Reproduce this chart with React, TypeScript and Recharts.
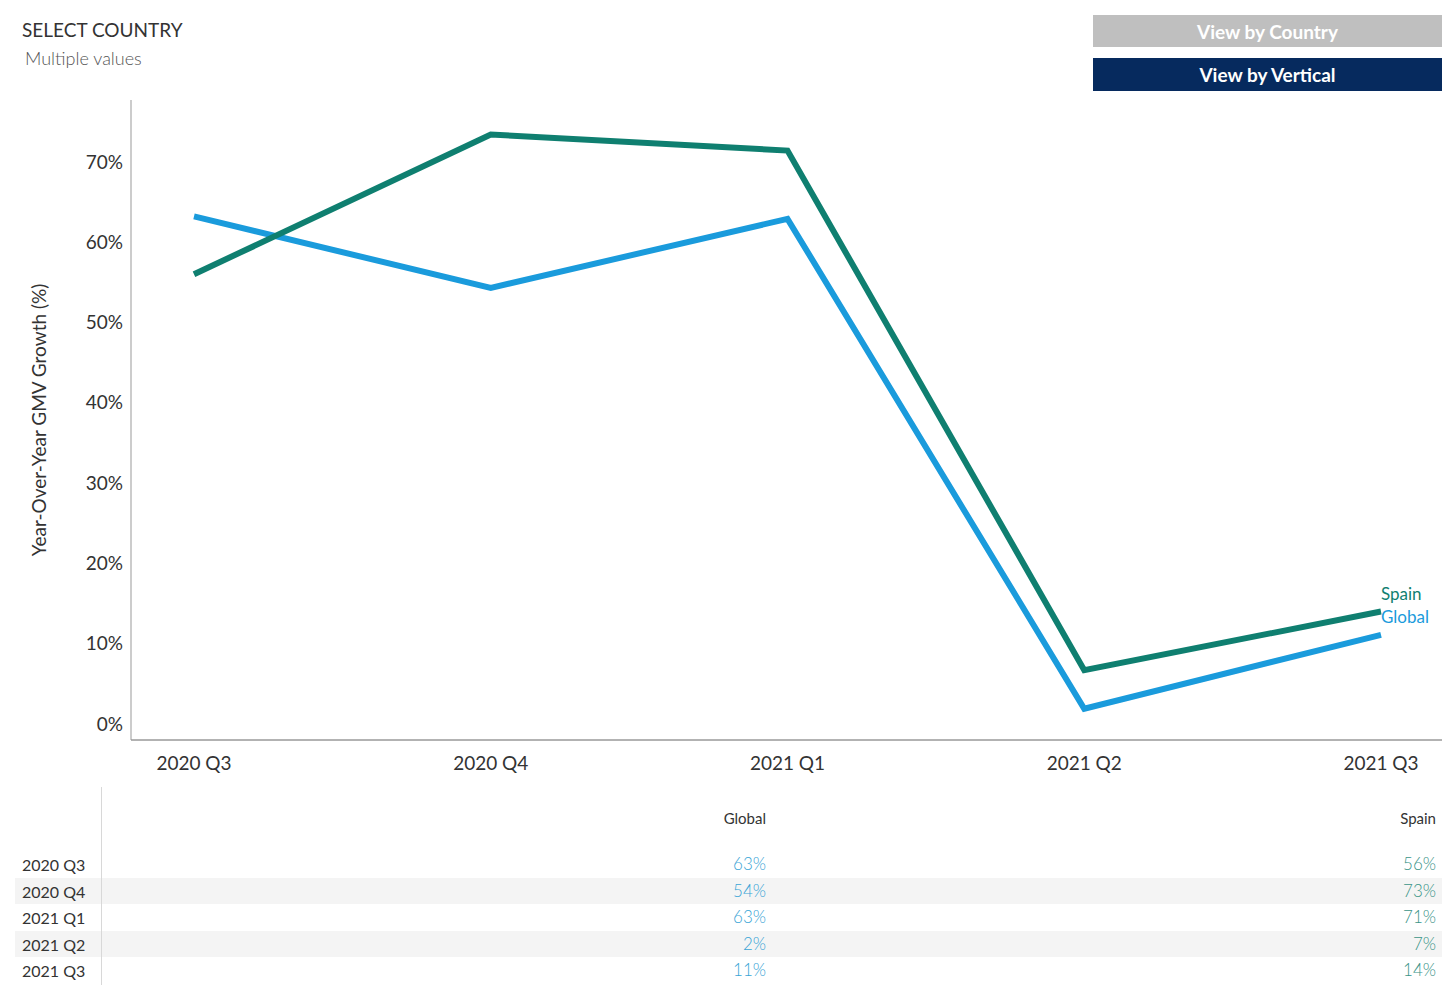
import { LineChart, Line, XAxis, YAxis } from 'recharts'

const quarters = ['2020 Q3', '2020 Q4', '2021 Q1', '2021 Q2', '2021 Q3']
const globalGrowth = [63.2, 54.3, 62.9, 1.9, 11.1]
const spainGrowth = [56.0, 73.4, 71.4, 6.7, 14.0]
const yTicks = [0, 10, 20, 30, 40, 50, 60, 70]

const COLORS = {
  spain: '#0f7f70',
  global: '#1a9bdc',
  globalText: '#3aa5d6',
  spainText: '#3a9488'
}

const FONT = 'Lato, "Open Sans", sans-serif'

const data = quarters.map((q, i) => ({ quarter: q, global: globalGrowth[i], spain: spainGrowth[i] }))

const endLabel = (name: string, color: string) => (props: any) => {
  const { x, y, index } = props
  if (index !== quarters.length - 1) return null
  return (
    <text x={x} y={y - 18} fill={color} fontSize={17} fontFamily={FONT} dominantBaseline="central">
      {name}
    </text>
  )
}

const pct = (v: number) => `${Math.round(v)}%`

export default function App() {
  return (
    <div style={{ position: 'absolute', left: 0, top: 0, width: 1456, height: 998, background: '#fff', fontFamily: FONT }}>
      <div style={{ position: 'absolute', left: 22, top: 18, fontSize: 19, color: '#333' }}>SELECT COUNTRY</div>
      <div style={{ position: 'absolute', left: 25, top: 47, fontSize: 18, color: '#555', fontWeight: 300 }}>Multiple values</div>

      <div style={{ position: 'absolute', left: 1093, top: 15, width: 349, height: 32, background: '#bfbfbf', color: '#fff', fontWeight: 700, fontSize: 19, display: 'flex', alignItems: 'center', justifyContent: 'center' }}>
        View by Country
      </div>
      <div style={{ position: 'absolute', left: 1093, top: 58, width: 349, height: 33, background: '#062a5e', color: '#fff', fontWeight: 700, fontSize: 19, display: 'flex', alignItems: 'center', justifyContent: 'center' }}>
        View by Vertical
      </div>

      <div style={{ position: 'absolute', left: 0, top: 0 }}>
        <LineChart width={1456} height={790} data={data} margin={{ top: 100, right: 14, bottom: 20, left: 0 }}>
          <XAxis
            dataKey="quarter"
            padding={{ left: 63, right: 61 }}
            tickLine={false}
            tickMargin={11}
            stroke="#666"
            tick={{ fill: '#333', fontSize: 19, fontFamily: FONT }}
          />
          <YAxis
            width={131}
            domain={[-2, 77.7]}
            ticks={yTicks}
            tickFormatter={(v: number) => `${v}%`}
            tickLine={false}
            stroke="#999"
            tick={{ fill: '#333', fontSize: 19, fontFamily: FONT }}
            label={{
              value: 'Year-Over-Year GMV Growth (%)',
              angle: -90,
              position: 'insideLeft',
              offset: 39,
              style: { textAnchor: 'middle', fill: '#333', fontSize: 19, fontFamily: FONT }
            }}
          />
          <Line dataKey="global" stroke={COLORS.global} strokeWidth={6} dot={false} isAnimationActive={false} label={endLabel('Global', COLORS.global)} />
          <Line dataKey="spain" stroke={COLORS.spain} strokeWidth={6} dot={false} isAnimationActive={false} label={endLabel('Spain', COLORS.spain)} />
        </LineChart>
      </div>

      <div style={{ position: 'absolute', left: 101, top: 787, width: 1, height: 198, background: '#d8d8d8' }} />
      <div style={{ position: 'absolute', right: 1456 - 766, top: 809, fontSize: 15, color: '#333' }}>Global</div>
      <div style={{ position: 'absolute', right: 1456 - 1436, top: 809, fontSize: 15, color: '#333' }}>Spain</div>

      <div style={{ position: 'absolute', left: 15, top: 851, width: 1427 }}>
        {quarters.map((q, i) => (
          <div key={q} style={{ position: 'relative', height: 26.6, background: i % 2 === 1 ? '#f4f4f4' : 'transparent' }}>
            <div style={{ position: 'absolute', left: 86, top: 0, width: 1, height: '100%', background: '#d8d8d8' }} />
            <span style={{ position: 'absolute', left: 7, top: 4, fontSize: 16, color: '#333' }}>{q}</span>
            <span style={{ position: 'absolute', right: 1427 - 751, top: 2, fontSize: 17, color: COLORS.globalText, fontWeight: 300 }}>{pct(globalGrowth[i])}</span>
            <span style={{ position: 'absolute', right: 6, top: 2, fontSize: 17, color: COLORS.spainText, fontWeight: 300 }}>{pct(spainGrowth[i])}</span>
          </div>
        ))}
      </div>
    </div>
  )
}
